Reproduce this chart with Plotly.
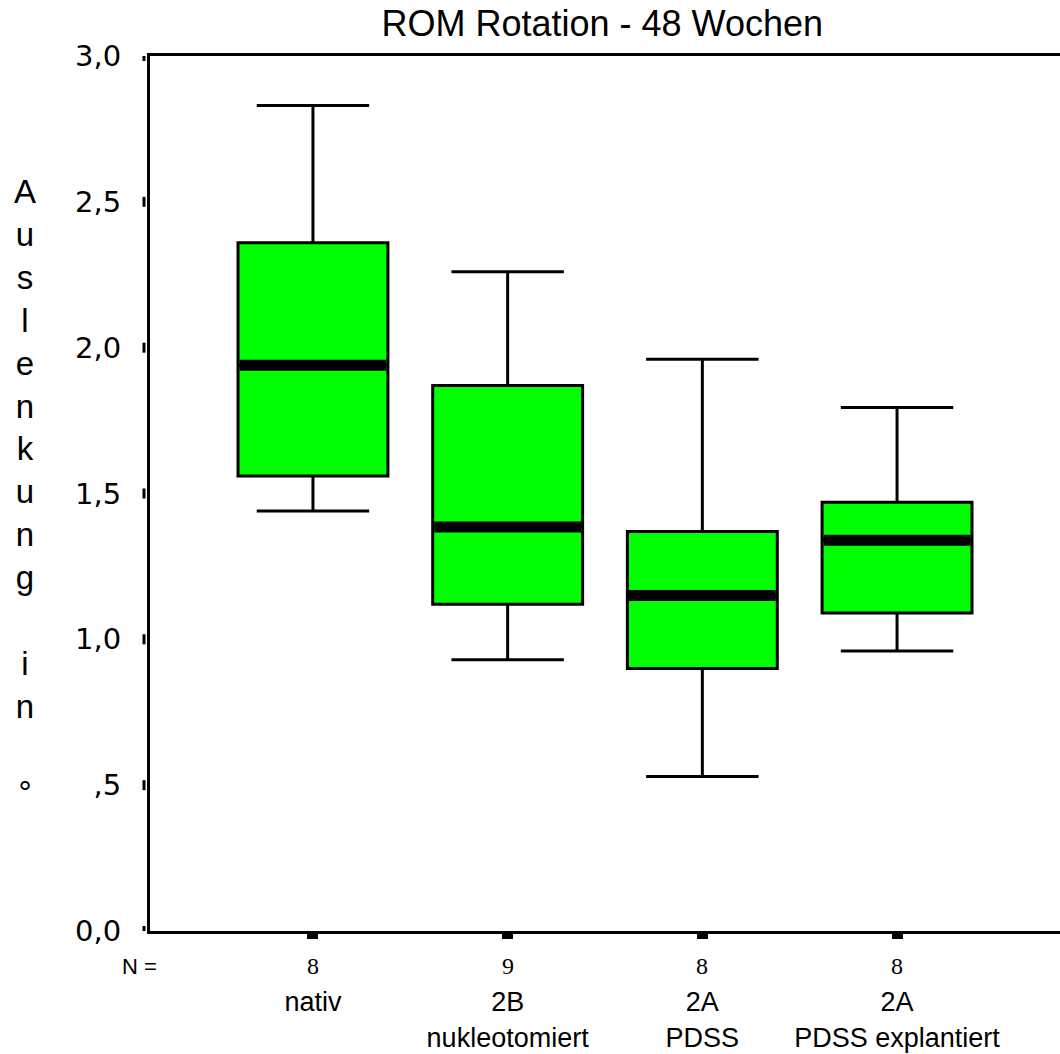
import plotly.graph_objects as go

# ---- data ----
categories = ["nativ", "2B<br>nukleotomiert", "2A<br>PDSS", "2A<br>PDSS explantiert"]
n_values = ["8", "9", "8", "8"]
lower_whisker = [1.44, 0.93, 0.53, 0.96]
q1_values = [1.56, 1.12, 0.90, 1.09]
median_values = [1.94, 1.385, 1.15, 1.34]
q3_values = [2.36, 1.87, 1.37, 1.47]
upper_whisker = [2.83, 2.26, 1.96, 1.795]
y_tick_vals = [0.0, 0.5, 1.0, 1.5, 2.0, 2.5, 3.0]
y_tick_text = ["0,0", ",5", "1,0", "1,5", "2,0", "2,5", "3,0"]
y_title_letters = list("Auslenkung in °")

BOX_WIDTH = 0.77
GREEN = "#00FF00"

xpos = list(range(len(categories)))

fig = go.Figure()

for i in xpos:
    fig.add_trace(go.Box(
        x=[i],
        q1=[q1_values[i]], median=[median_values[i]], q3=[q3_values[i]],
        lowerfence=[lower_whisker[i]], upperfence=[upper_whisker[i]],
        width=BOX_WIDTH, whiskerwidth=0.75,
        fillcolor=GREEN, line=dict(color="black", width=3),
        boxpoints=False, showlegend=False, hoverinfo="skip",
    ))

# thick median bars
mx, my = [], []
half = BOX_WIDTH / 2 - 0.008
for i in xpos:
    mx += [i - half, i + half, None]
    my += [median_values[i], median_values[i], None]
fig.add_trace(go.Scatter(x=mx, y=my, mode="lines",
                         line=dict(color="black", width=11),
                         showlegend=False, hoverinfo="skip"))

# y tick dashes (vertical, left of the axis)
shapes = []
for v in y_tick_vals:
    shapes.append(dict(type="line", xref="paper", yref="y",
                       xsizemode="pixel", xanchor=0, x0=-6, x1=-6,
                       ysizemode="pixel", yanchor=v, y0=-5, y1=5,
                       line=dict(color="black", width=3)))

annotations = []
# vertical y title, one letter per line
annotations.append(dict(
    text="<br>".join(c if c != " " else "\u00a0" for c in y_title_letters),
    xref="paper", yref="y", x=-0.137, y=1.505, xanchor="center", yanchor="middle",
    showarrow=False, font=dict(family="Liberation Sans, Arial", size=33, color="black"),
))
# N row
annotations.append(dict(text="N =", xref="paper", yref="paper", x=-0.011, y=0,
                        yshift=-35, xanchor="center", yanchor="middle", showarrow=False,
                        font=dict(family="Liberation Sans, Arial", size=22, color="black")))
for i in xpos:
    annotations.append(dict(text=n_values[i], xref="x", yref="paper", x=i, y=0,
                            yshift=-35, xanchor="center", yanchor="middle", showarrow=False,
                            font=dict(family="Liberation Serif, Times New Roman", size=24,
                                      color="black")))

fig.update_layout(
    width=1060, height=1054,
    margin=dict(l=150, r=0, t=56, b=123, pad=0, autoexpand=False),
    paper_bgcolor="white", plot_bgcolor="white",
    title=dict(text="ROM Rotation - 48 Wochen", xref="paper", x=0.497, xanchor="center",
               yref="container", y=1 - 23 / 1054, yanchor="middle",
               font=dict(family="Liberation Sans, Arial", size=36, color="black")),
    xaxis=dict(range=[-0.837, 3.837], tickvals=xpos, ticktext=categories,
               automargin=False,
               showgrid=False, zeroline=False, showline=True, linecolor="black",
               linewidth=3, mirror=True, ticks="outside", ticklen=5, tickwidth=11,
               tickcolor="black", ticklabelstandoff=40,
               tickfont=dict(family="Liberation Sans, Arial", size=27, color="black")),
    yaxis=dict(range=[0, 3.0], tickvals=y_tick_vals, ticktext=y_tick_text,
               automargin=False,
               showgrid=False, zeroline=False, showline=True, linecolor="black",
               linewidth=3, ticks="", ticklabelstandoff=20,
               tickfont=dict(family="DejaVu Sans", size=29, color="black")),
    shapes=shapes, annotations=annotations,
)

fig.write_html("out.html")
